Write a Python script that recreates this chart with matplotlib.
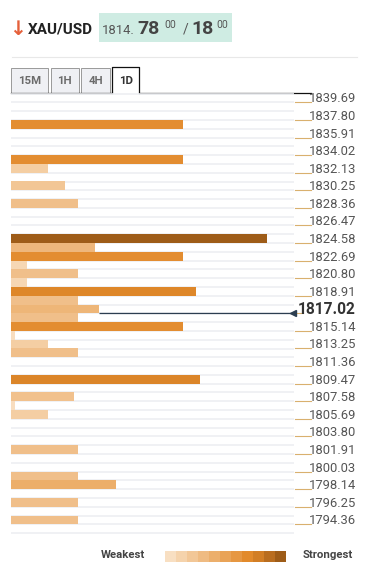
import matplotlib
matplotlib.use('Agg')
import matplotlib.pyplot as plt
from matplotlib.colors import LinearSegmentedColormap, ListedColormap
from matplotlib.patches import Rectangle
from matplotlib.lines import Line2D
import matplotlib.transforms as mtransforms
import numpy as np

# ---------------- data ----------------
symbol = "XAU/USD"
bid_int = "1814."
bid_big = "78"
bid_sup = "00"
ask_big = "18"
ask_sup = "00"
timeframes = ["15M", "1H", "4H", "1D"]
active_tf = "1D"

tick_prices = [1839.69, 1837.80, 1835.91, 1834.02, 1832.13, 1830.25, 1828.36,
               1826.47, 1824.58, 1822.69, 1820.80, 1818.91, 1817.02, 1815.14,
               1813.25, 1811.36, 1809.47, 1807.58, 1805.69, 1803.80, 1801.91,
               1800.03, 1798.14, 1796.25, 1794.36]
current_price = 1817.02

# confluence levels (row centre price) and strength (bar length)
level_prices = [1837.33, 1833.55, 1832.61, 1830.72, 1828.83, 1825.05, 1824.11,
                1823.16, 1822.22, 1821.28, 1820.33, 1819.39, 1818.44, 1817.50,
                1816.55, 1815.61, 1814.67, 1813.72, 1812.78, 1809.94, 1808.05,
                1807.11, 1806.16, 1802.39, 1799.55, 1798.61, 1796.72, 1794.83]
level_strength = [172, 172, 37, 54, 67, 256, 84,
                  172, 16, 67, 16, 185, 67, 88,
                  67, 172, 4, 37, 67, 189, 63,
                  4, 37, 67, 67, 105, 67, 67]

legend_colors = ['#F8DFC2', '#F5D3AC', '#F2C797', '#EFBB82', '#ECAF6C', '#E9A357',
                 '#E69742', '#E28A2B', '#D27E25', '#B96D1F', '#9E5C18']
legend_low = "Weakest"
legend_high = "Strongest"

# ---------------- figure ----------------
W, H = 374, 578
FONT = ['Roboto', 'DejaVu Sans']
plt.rcParams['font.family'] = FONT

fig = plt.figure(figsize=(W / 100, H / 100), dpi=100)
fig.patch.set_facecolor('white')

# overlay axes in pixel coordinates
ov = fig.add_axes([0, 0, 1, 1], zorder=0)
ov.set_xlim(0, W)
ov.set_ylim(H, 0)
ov.axis('off')
ov.patch.set_alpha(0)

# main chart axes
left_px, right_px, top_px, bot_px = 11, 294, 93.6, 533.1
ax = fig.add_axes([left_px / W, 1 - bot_px / H, (right_px - left_px) / W, (bot_px - top_px) / H], zorder=1)
step = (tick_prices[0] - tick_prices[-1]) / (len(tick_prices) - 1) / 2
ytop = tick_prices[0] + step
ybot = tick_prices[-1] - step
ax.set_ylim(ybot, ytop)
xmax = right_px - left_px
ax.set_xlim(0, xmax)
ax.axis('off')

# row separators
nrows = int(round((ytop - ybot) / step))
bounds = [ytop - k * step for k in range(nrows + 1)]
ax.hlines(bounds, 0, xmax, color='#EDEFF2', lw=1.2, zorder=1, clip_on=False)

cmap = LinearSegmentedColormap.from_list('conf', legend_colors)
smax = max(level_strength)
colors = [cmap(s / smax) for s in level_strength]
ax.barh(level_prices, level_strength, height=step, left=0, color=colors,
        zorder=2, linewidth=0)

# current price line
above = current_price + step / 2
idx = int(np.argmin([abs(p - above) for p in level_prices]))
line_start = level_strength[idx]
ax.plot([line_start, xmax - 2], [current_price, current_price], color='#2C3E50',
        lw=0.9, zorder=3, solid_capstyle='butt')
ax.plot([xmax - 1.5], [current_price], marker='<', markersize=5, color='#2C3E50',
        zorder=4, clip_on=False)

# price ticks / labels on the right
tr = mtransforms.blended_transform_factory(ov.transData, ax.transData)
for p in tick_prices:
    is_cur = abs(p - current_price) < 1e-6
    end = 303 if is_cur else 311
    ov.add_line(Line2D([295, end], [p, p], transform=tr, color='#D9B06E', lw=0.8))
    if is_cur:
        ov.text(356, p - 0.05, f"{p:.2f}", transform=tr, ha='right', va='baseline',
                fontsize=11.2, fontweight='bold', color='#333333')
    else:
        ov.text(356, p, f"{p:.2f}", transform=tr, ha='right', va='baseline',
                fontsize=9.4, color='#555555')

# ---------------- header ----------------
ov.text(9.5, 35, "\u2193", fontsize=14.5, fontweight='bold', color='#E5603B',
        ha='left', va='baseline', family=['DejaVu Sans'])
ov.text(28, 33.3, symbol, fontsize=11, fontweight='bold', color='#222222',
        ha='left', va='baseline')
ov.add_patch(Rectangle((99, 13), 133, 29, facecolor='#CFECE3', edgecolor='none'))
ov.text(102, 34, bid_int, fontsize=9.4, color='#555555', ha='left', va='baseline')
ov.text(137, 34, bid_big, fontsize=14, fontweight='bold', color='#444444', ha='left', va='baseline')
ov.text(164.5, 27.8, bid_sup, fontsize=7.6, color='#555555', ha='left', va='baseline')
ov.text(182.5, 34, "/", fontsize=10, color='#555555', ha='left', va='baseline')
ov.text(191, 34, ask_big, fontsize=14, fontweight='bold', color='#444444', ha='left', va='baseline')
ov.text(216.5, 27.8, ask_sup, fontsize=7.6, color='#555555', ha='left', va='baseline')

# divider
ov.add_line(Line2D([12, 357], [56.5, 56.5], color='#E8E8E8', lw=0.8))

# tabs
tab_x = [(11, 47.7), (50.7, 78.7), (81, 110.5), (112.3, 139.3)]
for (x0, x1), lab in zip(tab_x, timeframes):
    active = lab == active_tf
    if active:
        ov.add_patch(Rectangle((x0, 67), x1 - x0, 26.5, facecolor='white', edgecolor='none'))
        ov.add_line(Line2D([x0, x0, x1, x1], [93.3, 67, 67, 93.3], color='#111111', lw=0.9))
        ov.text((x0 + x1) / 2, 80.5, lab, fontsize=8.2, fontweight='bold', color='#333333',
                ha='center', va='center')
    else:
        ov.add_patch(Rectangle((x0, 67.5), x1 - x0, 25.8, facecolor='#EFF0F4',
                               edgecolor='#9A9A9A', lw=0.7))
        ov.text((x0 + x1) / 2, 80.5, lab, fontsize=8.2, fontweight='bold', color='#6B6B6B',
                ha='center', va='center')
ov.add_line(Line2D([11, 112.3], [93.3, 93.3], color='#111111', lw=0.9))
ov.add_line(Line2D([139.3, 311], [93.3, 93.3], color='#111111', lw=0.9))

# ---------------- legend ----------------
ov.text(101, 555.5, legend_low, fontsize=8.2, fontweight='bold', color='#444444',
        ha='left', va='center')
ov.text(303, 555.5, legend_high, fontsize=8.2, fontweight='bold', color='#444444',
        ha='left', va='center')
lax = fig.add_axes([165 / W, 1 - 562 / H, (286 - 165) / W, 11.5 / H], zorder=2)
lax.imshow(np.arange(len(legend_colors))[None, :], cmap=ListedColormap(legend_colors),
           aspect='auto', interpolation='nearest')
lax.axis('off')

fig.savefig('out.png', dpi=100, facecolor='white')
